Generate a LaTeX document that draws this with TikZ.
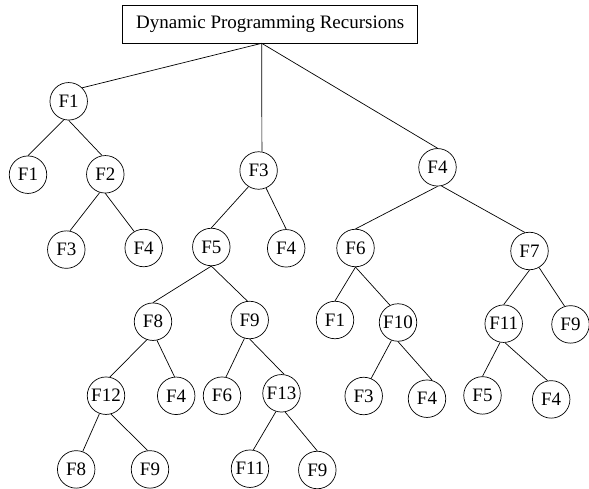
\documentclass[tikz,border=0pt]{standalone}
\usepackage{fontspec}
\setmainfont{Liberation Serif}
\begin{document}
\begin{tikzpicture}[x=1pt,y=-1pt,
  fn/.style={draw,circle,minimum size=37.5pt,inner sep=0pt,line width=0.7pt,font=\fontsize{19}{22}\selectfont},
  titlebox/.style={draw,rectangle,minimum width=295pt,minimum height=37.6pt,inner sep=0pt,line width=0.7pt,font=\fontsize{19}{22}\selectfont},
  edge/.style={line width=0.7pt}]
\useasboundingbox (0,0) rectangle (589,489);
\node[titlebox] (title) at (270.2,24.5) {Dynamic Programming Recursions};
\coordinate (r) at (261.7,43.3);
\node[fn] (a1) at (68.7,101.3) {F1};
\node[fn] (a2) at (258.6,170.5) {F3};
\node[fn] (a3) at (437.5,167.3) {F4};
\node[fn] (b1) at (28,174.7) {F1};
\node[fn] (b2) at (105.3,174.3) {F2};
\node[fn] (c1) at (66.3,249.6) {F3};
\node[fn] (c2) at (143.7,248) {F4};
\node[fn] (d1) at (211.3,247) {F5};
\node[fn] (d2) at (286.2,248.3) {F4};
\node[fn] (e1) at (355.5,248) {F6};
\node[fn] (e2) at (529.5,251) {F7};
\node[fn] (f1) at (153,321.7) {F8};
\node[fn] (f2) at (249.7,320) {F9};
\node[fn] (g1) at (335,320) {F1};
\node[fn] (g2) at (398,322.5) {F10};
\node[fn] (h1) at (503.7,323.7) {F11};
\node[fn] (h2) at (570.5,324.4) {F9};
\node[fn] (i1) at (106,395.7) {F12};
\node[fn] (i2) at (176.2,395.8) {F4};
\node[fn] (j1) at (222,395.7) {F6};
\node[fn] (j2) at (281.5,393.3) {F13};
\node[fn] (k1) at (363.7,396) {F3};
\node[fn] (k2) at (427,398.7) {F4};
\node[fn] (l1) at (482.5,395.4) {F5};
\node[fn] (l2) at (551.2,399.4) {F4};
\node[fn] (m1) at (76.2,469.4) {F8};
\node[fn] (m2) at (150,469.4) {F9};
\node[fn] (n1) at (250,468.7) {F11};
\node[fn] (n2) at (317.3,470) {F9};
\draw[edge] (r) -- (a1.45);
\draw[edge] (r) -- (a2.80);
\draw[edge] (r) -- (a3.north);
\draw[edge] (a1.-105) -- (b1.north);
\draw[edge] (a1.south) -- (b2.100);
\draw[edge] (b2.-107) -- (c1.79);
\draw[edge] (b2.south) -- (c2.120);
\draw[edge] (a2.-122) -- (d1.north);
\draw[edge] (a2.-67) -- (d2.north);
\draw[edge] (a3.south) -- (e1.north);
\draw[edge] (a3.-78) -- (e2.104);
\draw[edge] (d1.south) -- (f1.north);
\draw[edge] (d1.south) -- (f2.97);
\draw[edge] (e1.south) -- (g1.north);
\draw[edge] (e1.south) -- (g2.115);
\draw[edge] (e2.south) -- (h1.north);
\draw[edge] (e2.-60) -- (h2.108);
\draw[edge] (f1.-109) -- (i1.78);
\draw[edge] (f1.-78) -- (i2.95);
\draw[edge] (f2.-106) -- (j1.78);
\draw[edge] (f2.south) -- (j2.82);
\draw[edge] (g2.-110) -- (k1.67);
\draw[edge] (g2.south) -- (k2.74);
\draw[edge] (h1.-101) -- (l1.north);
\draw[edge] (h1.-86) -- (l2.101);
\draw[edge] (i1.-110) -- (m1.70);
\draw[edge] (i1.-75) -- (m2.97);
\draw[edge] (j2.-107) -- (n1.80);
\draw[edge] (j2.-79) -- (n2.north);
\end{tikzpicture}
\end{document}
